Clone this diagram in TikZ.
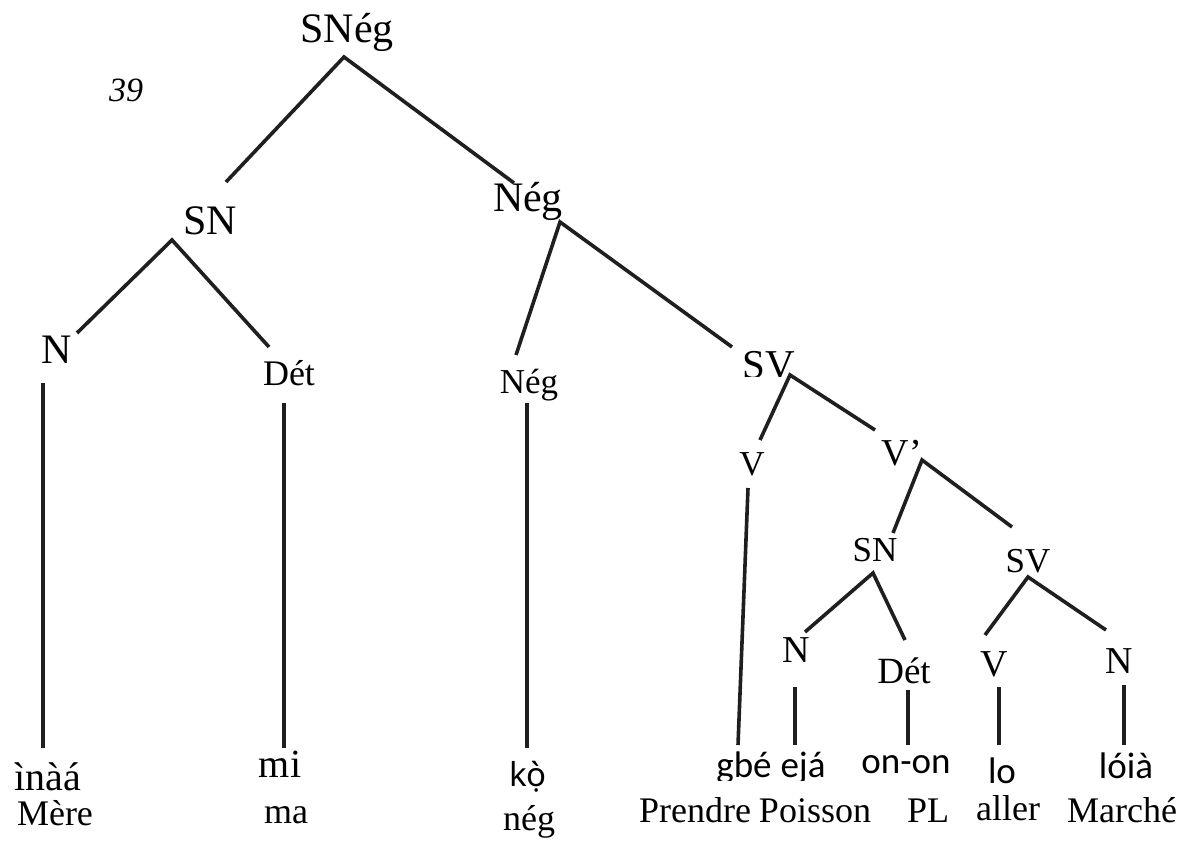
\documentclass[tikz,border=0pt]{standalone}
\usepackage{fontspec}
\setmainfont{Liberation Serif}
\newfontfamily\wordfont{Carlito}
\newfontfamily\markfont{Noto Sans}
\begin{document}
\begin{tikzpicture}[x=1pt,y=-1pt,
  lbl/.style={inner sep=0pt,anchor=base,text=black},
  big/.style={lbl,font=\fontsize{42}{48}\selectfont},
  mid/.style={lbl,font=\fontsize{36}{42}\selectfont},
  lex/.style={lbl,font=\fontsize{40}{46}\selectfont},
  word/.style={lbl,font=\wordfont\fontsize{37}{42}\selectfont},
  gloss/.style={lbl,font=\fontsize{36}{42}\selectfont},
  branch/.style={line width=3.6pt,color=black!88}]
\useasboundingbox[fill=white] (0,0) rectangle (1198,842);

% example number
\node[lbl,font=\itshape\fontsize{34}{40}\selectfont] (num) at (126,102) {39};

% category labels
\node[big] (sneg) at (347,43) {SNég};
\node[big] (sn1) at (210,235) {SN};
\node[big] (neg1) at (528,212) {Nég};
\node[big] (n1) at (57,363) {N};
\node[mid] (det1) at (289,385) {Dét};
\begin{scope}
  \clip (480,360) rectangle (580,403);
  \node[lbl,font=\fontsize{35}{40}\selectfont] (neg2) at (529,393) {Nég};
\end{scope}
\begin{scope}
  \clip (720,340) rectangle (820,376);
  \node[lbl,font=\fontsize{41}{46}\selectfont] (sv1) at (769,378) {SV};
\end{scope}
\node[lbl,font=\fontsize{35}{40}\selectfont] (v1) at (752,475) {V};
\node[lbl,font=\fontsize{38}{44}\selectfont] (vbar) at (902,465) {V’};
\node[lbl,font=\fontsize{35}{40}\selectfont] (sn2) at (875,561) {SN};
\node[lbl,font=\fontsize{35}{40}\selectfont] (sv2) at (1028,572) {SV};
\node[lbl,font=\fontsize{38}{44}\selectfont] (n2) at (796,662) {N};
\node[lbl,font=\fontsize{37}{42}\selectfont] (det2) at (904,683) {Dét};
\node[lbl,font=\fontsize{38}{44}\selectfont] (v2) at (994,676) {V};
\node[lbl,font=\fontsize{38}{44}\selectfont] (n3) at (1119,673) {N};

% lexical items
\node[lex] (w1) at (48,790) {ìnàá};
\node[lex] (w2) at (280,777) {mi};
\node[lbl,font=\markfont\fontsize{33}{40}\selectfont] (w3) at (528,786) {kọ̀};
\begin{scope}
  \clip (700,740) rectangle (840,780);
  \node[word] (w4) at (744,777) {gbé};
  \node[word] (w5) at (803,777) {ejá};
\end{scope}
\node[word] (w6) at (906,773) {on-on};
\node[word] (w7) at (1002,783) {lo};
\node[word] (w8) at (1126,778) {lóià};

% glosses
\node[gloss] (g1) at (55,825) {Mère};
\node[gloss] (g2) at (286,823) {ma};
\node[gloss] (g3) at (529,830) {nég};
\node[gloss] (g4) at (695,822) {Prendre};
\node[gloss] (g5) at (815,822) {Poisson};
\node[gloss] (g6) at (928,822) {PL};
\node[gloss] (g7) at (1008,820) {aller};
\node[gloss] (g8) at (1122,822) {Marché};

% branch end points
\coordinate (sneg-a) at (344,57);
\coordinate (sn1-t) at (226,182);
\coordinate (neg1-t) at (514,183);
\coordinate (sn1-a) at (172,240);
\coordinate (n1-t) at (77,333);
\coordinate (det1-t) at (269,347);
\coordinate (neg1-a) at (560,222);
\coordinate (neg2-t) at (516,355);
\coordinate (sv1-t) at (732,347);
\coordinate (n1-b) at (43,383);
\coordinate (w1-t) at (43,748);
\coordinate (det1-b) at (284,403);
\coordinate (w2-t) at (284,748);
\coordinate (neg2-b) at (527,403);
\coordinate (w3-t) at (527,748);
\coordinate (sv1-a) at (790,375);
\coordinate (v1-t) at (760,440);
\coordinate (vbar-t) at (875,430);
\coordinate (v1-b) at (748,488);
\coordinate (w4-t) at (738,745);
\coordinate (vbar-a) at (922,460);
\coordinate (sn2-t) at (893,533);
\coordinate (sv2-t) at (1012,527);
\coordinate (sn2-a) at (873,573);
\coordinate (n2-t) at (805,632);
\coordinate (det2-t) at (905,640);
\coordinate (sv2-a) at (1028,577);
\coordinate (v2-t) at (985,635);
\coordinate (n3-t) at (1106,630);
\coordinate (n2-b) at (795,687);
\coordinate (w5-t) at (795,745);
\coordinate (det2-b) at (908,690);
\coordinate (w6-t) at (908,745);
\coordinate (v2-b) at (999,687);
\coordinate (w7-t) at (999,745);
\coordinate (n3-b) at (1124,685);
\coordinate (w8-t) at (1124,745);

% branches
\draw[branch] (sn1-t) -- (sneg-a) -- (neg1-t);
\draw[branch] (n1-t) -- (sn1-a) -- (det1-t);
\draw[branch] (neg2-t) -- (neg1-a) -- (sv1-t);
\draw[branch] (v1-t) -- (sv1-a) -- (vbar-t);
\draw[branch] (sn2-t) -- (vbar-a) -- (sv2-t);
\draw[branch] (n2-t) -- (sn2-a) -- (det2-t);
\draw[branch] (v2-t) -- (sv2-a) -- (n3-t);
\draw[branch] (n1-b) -- (w1-t);
\draw[branch] (det1-b) -- (w2-t);
\draw[branch] (neg2-b) -- (w3-t);
\draw[branch] (v1-b) -- (w4-t);
\draw[branch] (n2-b) -- (w5-t);
\draw[branch] (det2-b) -- (w6-t);
\draw[branch] (v2-b) -- (w7-t);
\draw[branch] (n3-b) -- (w8-t);
\end{tikzpicture}
\end{document}
